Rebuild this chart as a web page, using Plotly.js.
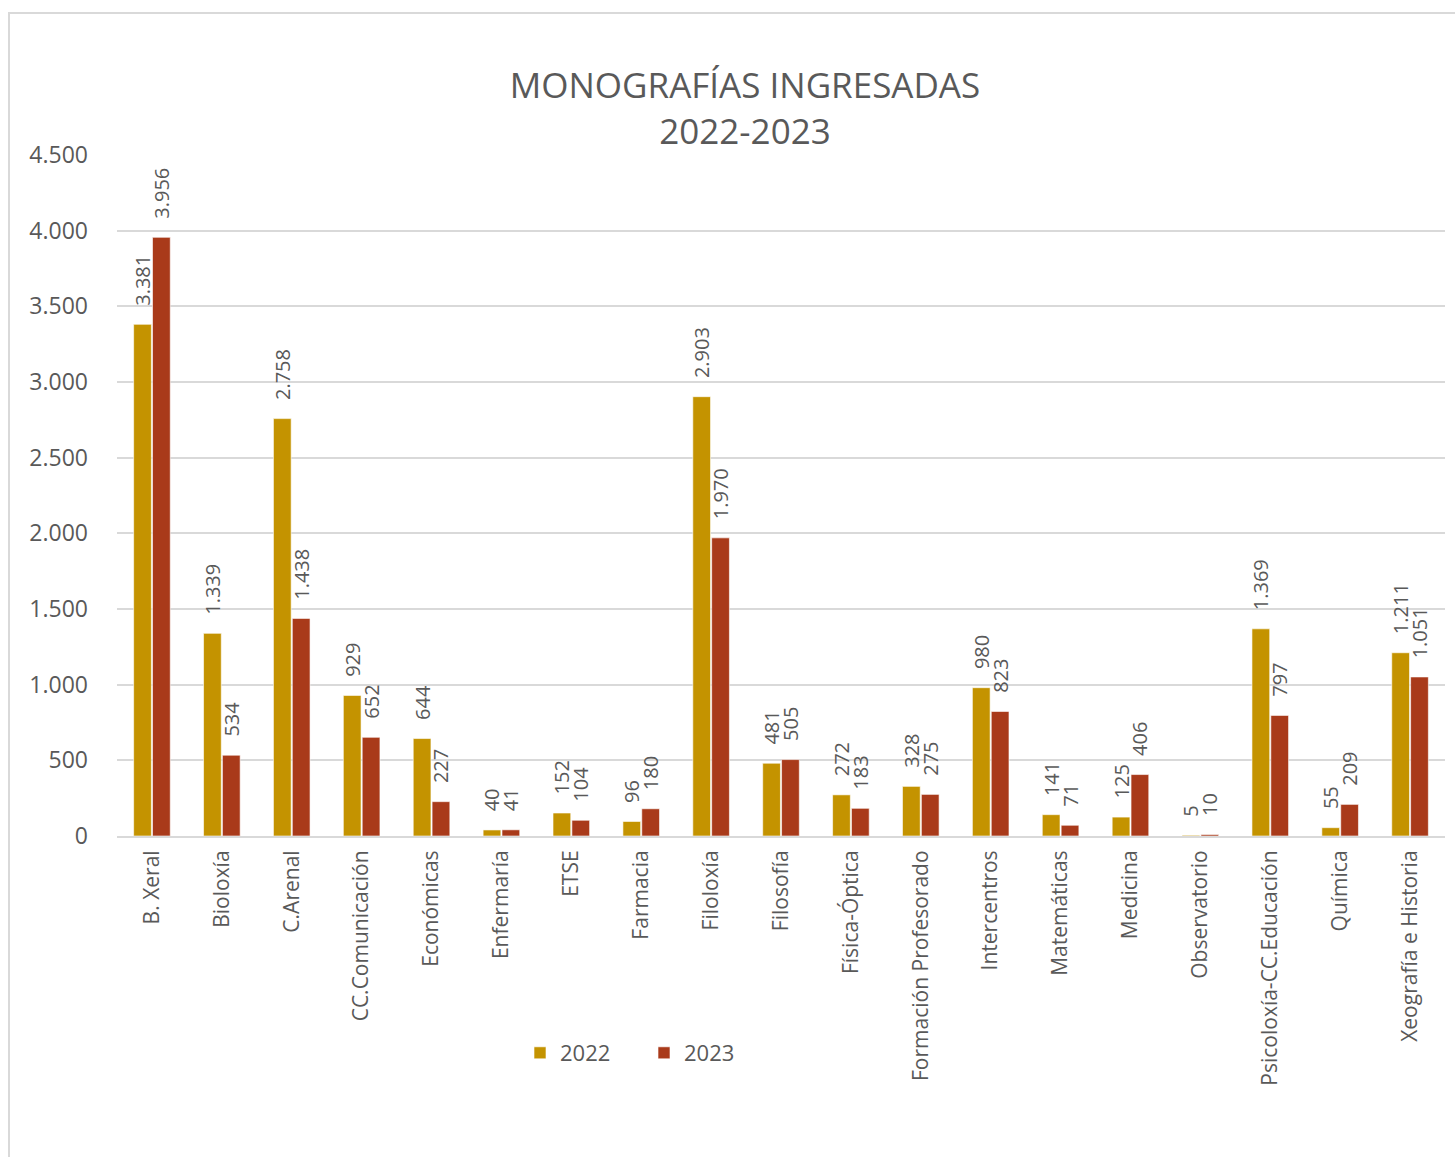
<!DOCTYPE html>
<html>
<head>
<meta charset="utf-8">
<script src="https://cdn.plot.ly/plotly-3.0.1.min.js"></script>
<style>
  html, body { margin: 0; padding: 0; background: #ffffff; overflow: hidden; }
  #frame { position: absolute; left: 8px; top: 12px; width: 1470px; height: 1170px;
           border: 2px solid #d9d9d9; box-sizing: border-box; }
  #chart { position: absolute; left: 0; top: 0; width: 1455px; height: 1157px; }
</style>
</head>
<body>
<div id="frame"></div>
<div id="chart"></div>
<script>
const categories = ["B. Xeral", "Bioloxía", "C.Arenal", "CC.Comunicación", "Económicas", "Enfermaría", "ETSE", "Farmacia", "Filoloxía", "Filosofía", "Física-Óptica", "Formación Profesorado", "Intercentros", "Matemáticas", "Medicina", "Observatorio", "Psicoloxía-CC.Educación", "Química", "Xeografía e Historia"];
const values2022 = [3381, 1339, 2758, 929, 644, 40, 152, 96, 2903, 481, 272, 328, 980, 141, 125, 5, 1369, 55, 1211];
const values2023 = [3956, 534, 1438, 652, 227, 41, 104, 180, 1970, 505, 183, 275, 823, 71, 406, 10, 797, 209, 1051];
const seriesNames = ["2022", "2023"];
const yTicks = [0, 500, 1000, 1500, 2000, 2500, 3000, 3500, 4000, 4500];

const fmt = v => String(v).replace(/\B(?=(\d{3})+(?!\d))/g, ".");
const pad = "\u00A0\u00A0\u00A0";
const textColor = "#595959";
const font = "Open Sans, DejaVu Sans, sans-serif";

function series(name, vals, color) {
  return {
    type: "bar",
    name: name,
    x: categories,
    y: vals,
    text: vals.map(v => pad + fmt(v)),
    textposition: "outside",
    textangle: -90,
    constraintext: "none",
    cliponaxis: false,
    textfont: {family: font, size: 20, color: textColor},
    marker: {color: color, line: {color: "rgba(255,255,255,0.6)", width: 1}},
    hoverinfo: "x+y"
  };
}

const data = [
  series(seriesNames[0], values2022, "#C49300"),
  series(seriesNames[1], values2023, "#A93A1A")
];

const layout = {
  width: 1455,
  height: 1157,
  paper_bgcolor: "rgba(0,0,0,0)",
  plot_bgcolor: "rgba(0,0,0,0)",
  margin: {l: 117, r: 10, t: 155, b: 321},
  separators: ",.",
  font: {family: font, color: textColor},
  title: {
    text: "MONOGRAFÍAS INGRESADAS<br>2022-2023",
    font: {family: font, size: 35, color: textColor},
    x: 745 / 1455, xanchor: "center", xref: "container",
    y: 1 - 98 / 1157, yanchor: "top", yref: "container"
  },
  barmode: "group",
  bargap: 0.46,
  bargroupgap: 0.06,
  xaxis: {
    type: "category",
    tickangle: -90,
    tickfont: {family: font, size: 21, color: textColor},
    showgrid: false,
    showline: true,
    linecolor: "#d9d9d9",
    linewidth: 2,
    ticks: "",
    ticklabelstandoff: 4,
    automargin: false
  },
  yaxis: {
    range: [0, 4500],
    tickvals: yTicks,
    ticktext: yTicks.map(fmt),
    tickfont: {family: font, size: 23, color: textColor},
    showgrid: true,
    gridcolor: "#d9d9d9",
    gridwidth: 1.5,
    zeroline: false,
    showline: false,
    ticks: "",
    ticklabelstandoff: 28,
    automargin: false
  },
  showlegend: true,
  legend: {
    orientation: "h",
    x: (644 - 117) / 1328, xanchor: "center",
    y: (836 - 1053) / 681, yanchor: "middle",
    font: {family: font, size: 22, color: textColor},
    entrywidth: 79,
    entrywidthmode: "pixels",
    bgcolor: "rgba(0,0,0,0)"
  }
};

Plotly.newPlot("chart", data, layout, {displayModeBar: false, responsive: false});
</script>
</body>
</html>
